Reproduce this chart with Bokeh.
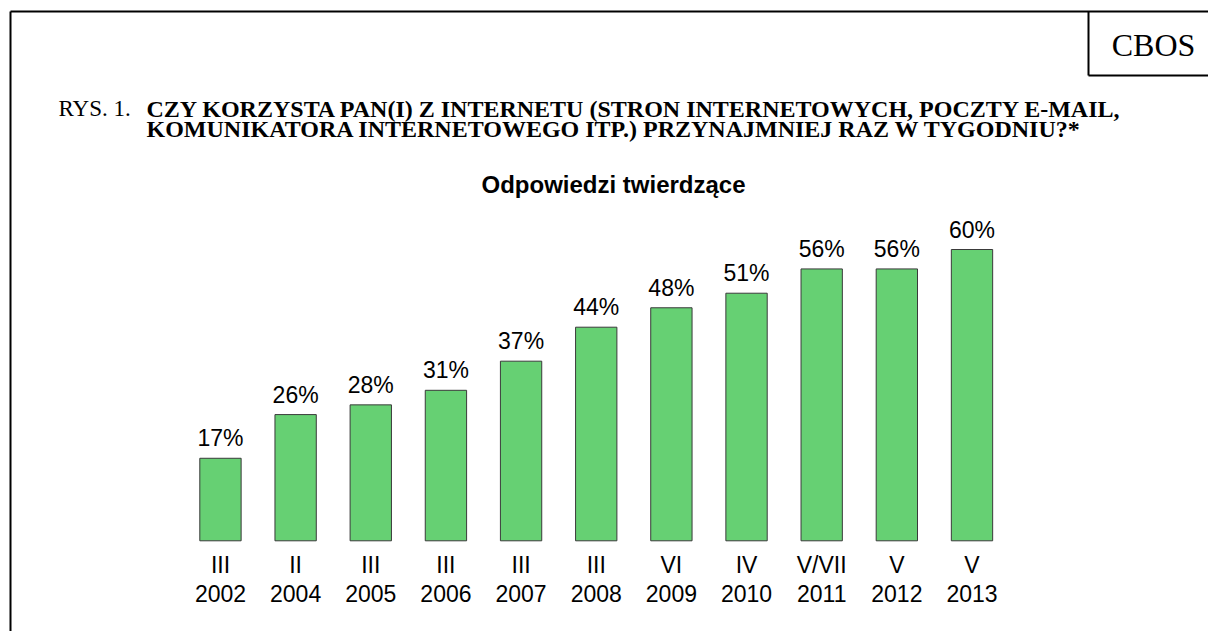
from bokeh.plotting import figure
from bokeh.models import Range1d, ColumnDataSource
from bokeh.core.properties import value
from bokeh.embed import file_html
from bokeh.resources import INLINE

# ---- data ----
periods = ["III", "II", "III", "III", "III", "III", "VI", "IV", "V/VII", "V", "V"]
years = ["2002", "2004", "2005", "2006", "2007", "2008", "2009", "2010", "2011", "2012", "2013"]
values = [17, 26, 28, 31, 37, 44, 48, 51, 56, 56, 60]
labels = [f"{v}%" for v in values]

header_left = "RYS. 1."
header_lines = [
    "CZY KORZYSTA PAN(I) Z INTERNETU (STRON INTERNETOWYCH, POCZTY E-MAIL,",
    "KOMUNIKATORA INTERNETOWEGO ITP.) PRZYNAJMNIEJ RAZ W TYGODNIU?*",
]
chart_title = "Odpowiedzi twierdzące"
brand = "CBOS"

W, H = 1208, 631
p = figure(width=W, height=H, output_backend="svg", toolbar_location=None,
           x_range=Range1d(0, W), y_range=Range1d(H, 0),
           min_border=0, min_border_left=0, min_border_right=0,
           min_border_top=0, min_border_bottom=0)
p.axis.visible = False
p.grid.visible = False
p.outline_line_color = None
p.background_fill_color = "white"

# ranges for the bar chart (category index, percent)
p.extra_x_ranges["bars"] = Range1d(-2.927, 13.147)
p.extra_y_ranges["val"] = Range1d(-18.68, 111.29)

idx = list(range(len(values)))
src = ColumnDataSource(dict(x=idx, top=values, lab=labels, per=periods, yr=years))

p.vbar(x="x", top="top", bottom=0, width=0.55, source=src,
       x_range_name="bars", y_range_name="val",
       fill_color="#66D073", line_color="#3a3a3a", line_width=1)

sans = value("Liberation Sans")
serif = value("Liberation Serif")

p.text(x="x", y="top", text="lab", source=src, x_range_name="bars", y_range_name="val",
       text_font=sans, text_font_size="23px", text_align="center",
       text_baseline="alphabetic", y_offset=-20, text_color="black")

p.text(x="x", y=564, text="per", source=src, x_range_name="bars",
       text_font=sans, text_font_size="23px", text_align="center",
       text_baseline="alphabetic", text_color="black")
p.text(x="x", y=592.5, text="yr", source=src, x_range_name="bars",
       text_font=sans, text_font_size="23px", text_align="center",
       text_baseline="alphabetic", text_color="black")

# title
p.text(x=[613], y=[184], text=[chart_title], text_font=sans, text_font_size="24px",
       text_font_style="bold", text_align="center", text_baseline="alphabetic",
       text_color="black")

# header
p.text(x=[58], y=[108], text=[header_left], text_font=serif, text_font_size="23px",
       text_align="left", text_baseline="alphabetic", text_color="black")
p.text(x=[146, 146], y=[108, 128], text=header_lines, text_font=serif,
       text_font_size="24px", text_font_style="bold", text_align="left",
       text_baseline="alphabetic", text_color="black")

# frame decorations
p.segment(x0=[10, 10, 1088, 1088], y0=[11, 11, 11, 75], x1=[W, 10, 1088, W], y1=[11, H, 75, 75],
          line_color="black", line_width=2)
p.text(x=[1153], y=[44.5], text=[brand], text_font=serif, text_font_size="32px",
       text_align="center", text_baseline="alphabetic", text_color="black")

open("out.html", "w").write(file_html(p, INLINE))
